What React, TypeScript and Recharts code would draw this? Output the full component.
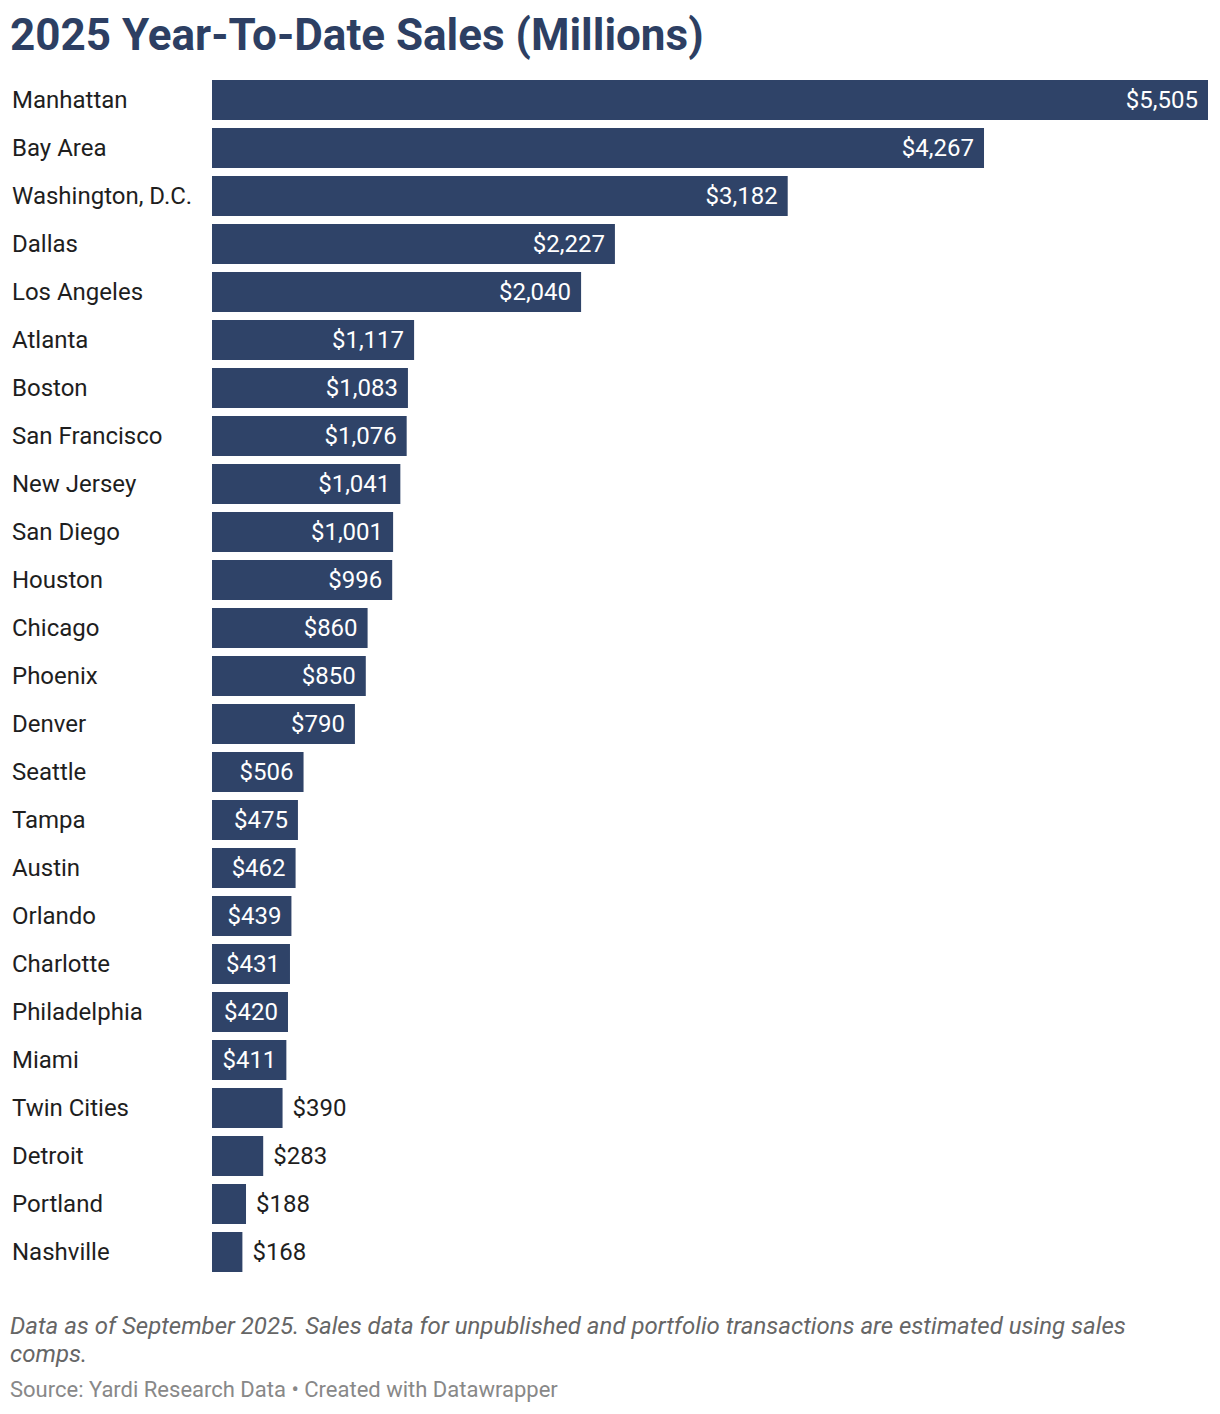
import React from "react";
import { BarChart, Bar, XAxis, YAxis, LabelList } from "recharts";

const cities = [
  "Manhattan", "Bay Area", "Washington, D.C.", "Dallas", "Los Angeles", "Atlanta",
  "Boston", "San Francisco", "New Jersey", "San Diego", "Houston", "Chicago",
  "Phoenix", "Denver", "Seattle", "Tampa", "Austin", "Orlando", "Charlotte",
  "Philadelphia", "Miami", "Twin Cities", "Detroit", "Portland", "Nashville",
];
const sales = [
  5505, 4267, 3182, 2227, 2040, 1117, 1083, 1076, 1041, 1001, 996, 860, 850, 790,
  506, 475, 462, 439, 431, 420, 411, 390, 283, 188, 168,
];

const data = cities.map((c, i) => ({ city: c, value: sales[i] }));

const BAR = "#2f4368";
const FONT = "Roboto, 'Noto Sans', sans-serif";

const fmt = (v: number) => "$" + v.toLocaleString("en-US");

const CityTick = (props: any) => {
  const { y, payload } = props;
  return (
    <text x={12} y={y} dy={8} fill="#1e1e1e" fontSize={24} fontFamily={FONT} textAnchor="start">
      {payload.value}
    </text>
  );
};

const ValueLabel = (props: any) => {
  const { x, y, width, height, value } = props;
  const inside = value >= 400;
  const cy = y + height / 2;
  if (inside) {
    return (
      <text x={x + width - 10} y={cy} dy={8} fill="#ffffff" fontSize={24} fontFamily={FONT} textAnchor="end">
        {fmt(value)}
      </text>
    );
  }
  return (
    <text x={x + width + 10} y={cy} dy={8} fill="#1e1e1e" fontSize={24} fontFamily={FONT} textAnchor="start">
      {fmt(value)}
    </text>
  );
};

export default function App() {
  return (
    <div style={{ position: "absolute", left: 0, top: 0, width: 1220, height: 1414, background: "#fff", fontFamily: FONT }}>
      <div
        style={{
          position: "absolute",
          left: 10,
          top: 7,
          fontSize: 44,
          fontWeight: 700,
          color: "#2d3f63",
          whiteSpace: "nowrap",
          lineHeight: "56px",
        }}
      >
        2025 Year-To-Date Sales (Millions)
      </div>
      <div style={{ position: "absolute", left: 0, top: 0 }}>
        <BarChart
          width={1220}
          height={1290}
          data={data}
          layout="vertical"
          margin={{ top: 76, right: 12, bottom: 14, left: 0 }}
          barCategoryGap={4}
        >
          <XAxis type="number" domain={[0, 5505]} hide />
          <YAxis
            type="category"
            dataKey="city"
            width={212}
            axisLine={false}
            tickLine={false}
            tick={<CityTick />}
            interval={0}
          />
          <Bar dataKey="value" fill={BAR} isAnimationActive={false}>
            <LabelList dataKey="value" content={<ValueLabel />} />
          </Bar>
        </BarChart>
      </div>
      <div
        style={{
          position: "absolute",
          left: 10,
          top: 1312,
          width: 1180,
          fontSize: 24,
          fontStyle: "italic",
          color: "#666",
          lineHeight: "28px",
        }}
      >
        Data as of September 2025. Sales data for unpublished and portfolio transactions are estimated using sales comps.
      </div>
      <div
        style={{
          position: "absolute",
          left: 10,
          top: 1376,
          fontSize: 22,
          color: "#888",
          whiteSpace: "nowrap",
          lineHeight: "28px",
        }}
      >
        Source: Yardi Research Data • Created with Datawrapper
      </div>
    </div>
  );
}
